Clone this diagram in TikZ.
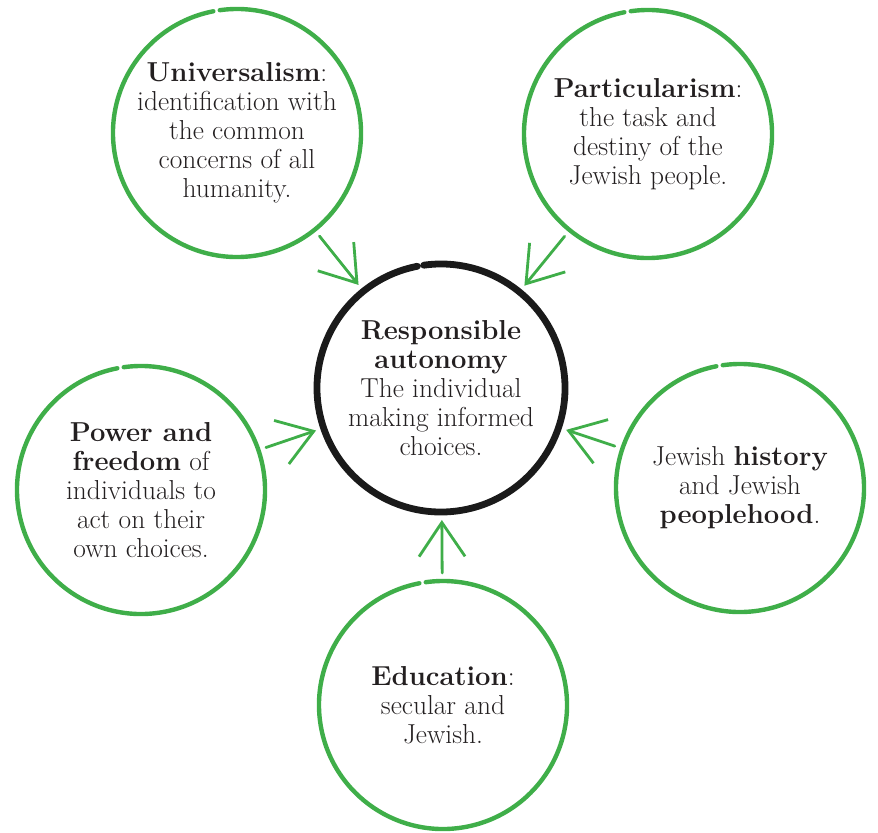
\documentclass[tikz,border=0pt]{standalone}
\usepackage{fontspec}
\usetikzlibrary{
  positioning,
  arrows.meta
}
\definecolor{ringGreen}{HTML}{3FAE49}
\definecolor{ringBlack}{HTML}{1A1A1A}
\definecolor{inkDark}{HTML}{231F20}

\begin{document}
\begin{tikzpicture}[
  every node/.style={align=center, text=inkDark,
    font=\fontsize{19.5}{20.6}\selectfont},
  idea/.style={
    circle, minimum size=6.2cm, inner sep=0pt, outer sep=0.2cm
  },
  ring/.style={draw=ringGreen, line width=0.11cm, line cap=round},
  corering/.style={draw=ringBlack, line width=0.17cm, line cap=round},
  arrow/.style={-{Straight Barb[length=8.5mm, width=11.5mm]},
    draw=ringGreen, line width=0.07cm, line cap=round}
]
 \useasboundingbox (0,0) rectangle (21.95,20.8);

 % Centre
 \node[idea] (core) at (11.025,11.1)
  {\textbf{Responsible}\\\textbf{autonomy}\\The individual\\making informed\\choices.};

 % Surrounding ideas
 \node[idea] (univ) at (5.925,17.475)
  {\textbf{Universalism}:\\identification with\\the common\\concerns of all\\humanity.};
 \node[idea] (part) at (16.2,17.45)
  {\textbf{Particularism}:\\the task and\\destiny of the\\Jewish people.};
 \node[idea] (power) at (3.525,8.55)
  {\textbf{Power and}\\\textbf{freedom} of\\individuals to\\act on their\\own choices.};
 \node[idea] (hist) at (18.5,8.6)
  {Jewish \textbf{history}\\and Jewish\\\textbf{peoplehood}.};
 \node[idea] (edu) at (11.075,3.175)
  {\textbf{Education}:\\secular and\\Jewish.};

 % Hand-drawn rings, each with a small break near the top
 \foreach \n in {univ, part, power, hist, edu} {
  \draw[ring] ([shift={(101:3.1cm)}]\n.center)
    arc[start angle=101, end angle=458, radius=3.1cm];
 }
 \draw[corering] ([shift={(101:3.1cm)}]core.center)
    arc[start angle=101, end angle=458, radius=3.1cm];

 % Arrows into the centre
 \foreach \n in {univ, part, power, hist, edu} {
  \draw[arrow] (\n) -- (core);
 }
\end{tikzpicture}
\end{document}
